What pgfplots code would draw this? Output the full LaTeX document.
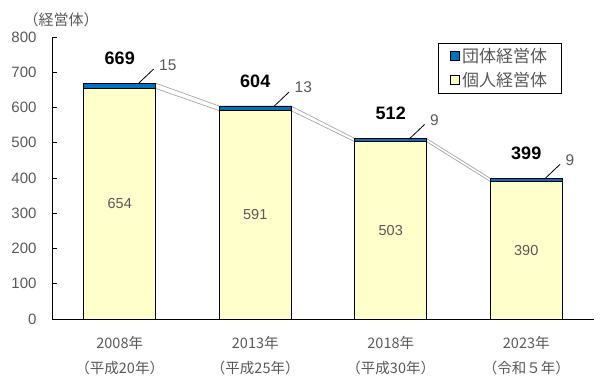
\documentclass[border=0pt]{standalone}
\usepackage{fontspec}
\setmainfont{Liberation Sans}
\newfontfamily\jp{Noto Sans CJK JP}
\usepackage{pgfplots}
\pgfplotsset{compat=1.18}
\definecolor{tgray}{HTML}{595959}
\definecolor{gblue}{HTML}{0070C0}
\definecolor{iyellow}{HTML}{FFFFCC}
\definecolor{lgray}{HTML}{A6A6A6}
\begin{document}
\begin{tikzpicture}[x=1pt,y=1pt]
\useasboundingbox (0,0) rectangle (600,382);
\node[font=\jp\fontsize{15}{17}\selectfont, text=tgray] at (61,362) {（経営体）};
\begin{axis}[
  at={(52pt,63pt)}, anchor=south west,
  scale only axis, width=542pt, height=282pt,
  xmin=-0.5, xmax=3.5, ymin=0, ymax=800,
  axis lines*=left,
  axis line style={black, line width=0.8pt},
  ytick={0,100,...,800},
  xtick={0,1,2,3},
  xticklabels={{2008年\\（平成20年）},{2013年\\（平成25年）},{2018年\\（平成30年）},{2023年\\（令和５年）}},
  tick align=inside, major tick length=5pt,
  ytick style={black, line width=0.8pt},
  xtick style={draw=none},
  /pgf/number format/assume math mode=true,
  yticklabel style={font=\fontsize{15}{17}\selectfont, text=tgray, xshift=-12pt},
  xticklabel style={align=center, font=\jp\fontsize{14.5}{25}\selectfont, text=tgray, yshift=-14pt},
  legend style={at={(0.712,0.979)}, anchor=north west, draw=black, line width=0.8pt,
    font=\jp\fontsize{17}{19}\selectfont, text=tgray, row sep=4pt, inner xsep=12pt, inner ysep=3pt},
  legend cell align=left,
  unbounded coords=jump,
]
% series lines (drawn behind bars)
\addplot[lgray, line width=0.7pt, forget plot] coordinates {(0.265,669)(0.735,604)(1.265,604)(1.735,512)(2.265,512)(2.735,399)};
\addplot[lgray, line width=0.7pt, forget plot] coordinates {(0.265,654)(0.735,591)(1.265,591)(1.735,503)(2.265,503)(2.735,390)};
% bars
\addplot[ybar, bar width=72pt, bar shift=0pt, fill=gblue, draw=black, line width=0.8pt,
  legend image code/.code={\draw[fill=gblue, draw=black, line width=0.8pt] (0pt,-4.5pt) rectangle (9pt,4.5pt);}]
  coordinates {(0,669)(1,604)(2,512)(3,399)};
\addlegendentry{団体経営体}
\addplot[ybar, bar width=72pt, bar shift=0pt, fill=iyellow, draw=black, line width=0.8pt,
  legend image code/.code={\draw[fill=iyellow, draw=black, line width=0.8pt] (0pt,-4.5pt) rectangle (9pt,4.5pt);}]
  coordinates {(0,654)(1,591)(2,503)(3,390)};
\addlegendentry{個人経営体}
% leader lines
\addplot[black, line width=0.8pt, forget plot] coordinates {(0.14,669)(0.25,709) (0.5,nan) (1.14,604)(1.25,644) (1.5,nan) (2.14,512)(2.25,552) (2.5,nan) (3.14,399)(3.25,439)};
% totals
\addplot[draw=none, forget plot, nodes near coords, point meta=explicit symbolic,
  nodes near coords style={anchor=base, yshift=19pt, font=\bfseries\fontsize{18}{20}\selectfont, text=black}]
  table[meta=lab] {
x y lab
0 669 669
1 604 604
2 512 512
3 399 399
};
% group labels
\addplot[draw=none, forget plot, nodes near coords, point meta=explicit symbolic,
  nodes near coords style={anchor=base west, xshift=2pt, yshift=-1pt, font=\fontsize{15.5}{17}\selectfont, text=tgray}]
  table[meta=lab] {
x y lab
0.25 709 15
1.25 644 13
2.25 552 9
3.25 439 9
};
% individual labels
\addplot[draw=none, forget plot, nodes near coords, point meta=explicit symbolic,
  nodes near coords style={anchor=center, yshift=0pt, font=\fontsize{14.5}{16}\selectfont, text=tgray}]
  table[meta=lab] {
x y lab
0 327 654
1 295.5 591
2 251.5 503
3 195 390
};
\end{axis}
\end{tikzpicture}
\end{document}
